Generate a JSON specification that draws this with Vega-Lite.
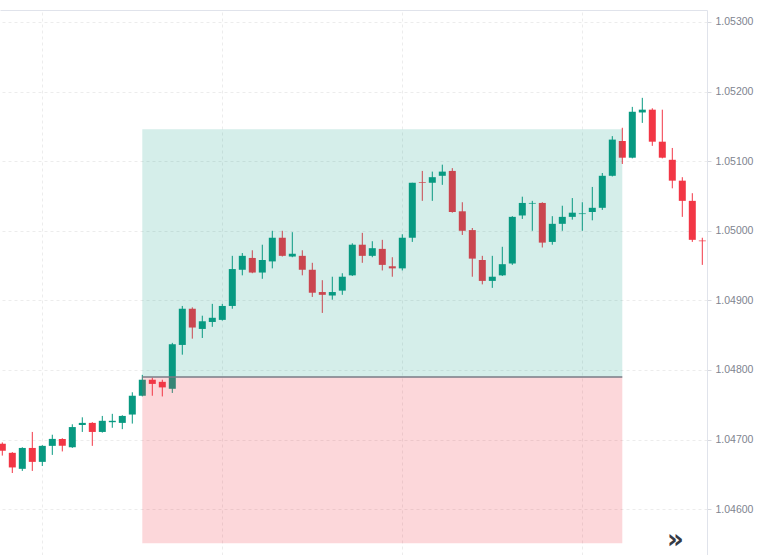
{
  "$schema": "https://vega.github.io/schema/vega-lite/v6.json",
  "width": 707,
  "height": 545,
  "autosize": {"type": "none"},
  "padding": {"left": 0, "top": 10, "right": 53, "bottom": 0},
  "background": "white",
  "datasets": {
    "candles": [
      {"i": 0, "o": 1.04694, "h": 1.04696, "l": 1.04677, "c": 1.04684},
      {"i": 1, "o": 1.04681, "h": 1.04682, "l": 1.04652, "c": 1.04660},
      {"i": 2, "o": 1.04658, "h": 1.04689, "l": 1.04655, "c": 1.04688},
      {"i": 3, "o": 1.04688, "h": 1.04711, "l": 1.04655, "c": 1.04668},
      {"i": 4, "o": 1.04668, "h": 1.04692, "l": 1.04662, "c": 1.04691},
      {"i": 5, "o": 1.04691, "h": 1.04707, "l": 1.04678, "c": 1.04701},
      {"i": 6, "o": 1.04701, "h": 1.04702, "l": 1.04683, "c": 1.04691},
      {"i": 7, "o": 1.04689, "h": 1.04722, "l": 1.04688, "c": 1.04718},
      {"i": 8, "o": 1.04721, "h": 1.04732, "l": 1.04711, "c": 1.04724},
      {"i": 9, "o": 1.04724, "h": 1.04725, "l": 1.04691, "c": 1.04711},
      {"i": 10, "o": 1.04711, "h": 1.04734, "l": 1.04710, "c": 1.04727},
      {"i": 11, "o": 1.04725, "h": 1.04737, "l": 1.04717, "c": 1.04727},
      {"i": 12, "o": 1.04724, "h": 1.04735, "l": 1.04715, "c": 1.04734},
      {"i": 13, "o": 1.04736, "h": 1.04768, "l": 1.04723, "c": 1.04763},
      {"i": 14, "o": 1.04763, "h": 1.04793, "l": 1.04762, "c": 1.04786},
      {"i": 15, "o": 1.04786, "h": 1.04789, "l": 1.04763, "c": 1.04780},
      {"i": 16, "o": 1.04783, "h": 1.04786, "l": 1.04762, "c": 1.04775},
      {"i": 17, "o": 1.04773, "h": 1.04839, "l": 1.04767, "c": 1.04837},
      {"i": 18, "o": 1.04836, "h": 1.04892, "l": 1.04822, "c": 1.04888},
      {"i": 19, "o": 1.04888, "h": 1.04890, "l": 1.04845, "c": 1.04861},
      {"i": 20, "o": 1.04859, "h": 1.04878, "l": 1.04846, "c": 1.04870},
      {"i": 21, "o": 1.04869, "h": 1.04895, "l": 1.04862, "c": 1.04875},
      {"i": 22, "o": 1.04872, "h": 1.04895, "l": 1.04871, "c": 1.04892},
      {"i": 23, "o": 1.04892, "h": 1.04964, "l": 1.04888, "c": 1.04945},
      {"i": 24, "o": 1.04944, "h": 1.04968, "l": 1.04936, "c": 1.04964},
      {"i": 25, "o": 1.04961, "h": 1.04972, "l": 1.04939, "c": 1.04940},
      {"i": 26, "o": 1.04940, "h": 1.04980, "l": 1.04931, "c": 1.04958},
      {"i": 27, "o": 1.04956, "h": 1.05000, "l": 1.04946, "c": 1.04990},
      {"i": 28, "o": 1.04990, "h": 1.05000, "l": 1.04963, "c": 1.04964},
      {"i": 29, "o": 1.04963, "h": 1.04998, "l": 1.04962, "c": 1.04967},
      {"i": 30, "o": 1.04964, "h": 1.04972, "l": 1.04936, "c": 1.04944},
      {"i": 31, "o": 1.04944, "h": 1.04954, "l": 1.04905, "c": 1.04911},
      {"i": 32, "o": 1.04912, "h": 1.04929, "l": 1.04882, "c": 1.04908},
      {"i": 33, "o": 1.04907, "h": 1.04934, "l": 1.04901, "c": 1.04912},
      {"i": 34, "o": 1.04914, "h": 1.04939, "l": 1.04908, "c": 1.04934},
      {"i": 35, "o": 1.04936, "h": 1.04982, "l": 1.04935, "c": 1.04980},
      {"i": 36, "o": 1.04980, "h": 1.04997, "l": 1.04954, "c": 1.04964},
      {"i": 37, "o": 1.04964, "h": 1.04985, "l": 1.04962, "c": 1.04975},
      {"i": 38, "o": 1.04974, "h": 1.04987, "l": 1.04943, "c": 1.04951},
      {"i": 39, "o": 1.04949, "h": 1.04962, "l": 1.04934, "c": 1.04946},
      {"i": 40, "o": 1.04946, "h": 1.04995, "l": 1.04943, "c": 1.04990},
      {"i": 41, "o": 1.04990, "h": 1.05069, "l": 1.04984, "c": 1.05069},
      {"i": 42, "o": 1.05070, "h": 1.05086, "l": 1.05043, "c": 1.05069},
      {"i": 43, "o": 1.05069, "h": 1.05085, "l": 1.05043, "c": 1.05077},
      {"i": 44, "o": 1.05079, "h": 1.05095, "l": 1.05066, "c": 1.05085},
      {"i": 45, "o": 1.05086, "h": 1.05090, "l": 1.05026, "c": 1.05027},
      {"i": 46, "o": 1.05028, "h": 1.05041, "l": 1.04994, "c": 1.05000},
      {"i": 47, "o": 1.05001, "h": 1.05004, "l": 1.04934, "c": 1.04960},
      {"i": 48, "o": 1.04958, "h": 1.04964, "l": 1.04923, "c": 1.04928},
      {"i": 49, "o": 1.04928, "h": 1.04964, "l": 1.04918, "c": 1.04934},
      {"i": 50, "o": 1.04936, "h": 1.04977, "l": 1.04935, "c": 1.04952},
      {"i": 51, "o": 1.04953, "h": 1.05021, "l": 1.04951, "c": 1.05020},
      {"i": 52, "o": 1.05022, "h": 1.05049, "l": 1.05017, "c": 1.05040},
      {"i": 53, "o": 1.05039, "h": 1.05043, "l": 1.05000, "c": 1.05040},
      {"i": 54, "o": 1.05040, "h": 1.05041, "l": 1.04976, "c": 1.04983},
      {"i": 55, "o": 1.04984, "h": 1.05021, "l": 1.04980, "c": 1.05010},
      {"i": 56, "o": 1.05010, "h": 1.05036, "l": 1.05000, "c": 1.05020},
      {"i": 57, "o": 1.05020, "h": 1.05047, "l": 1.05016, "c": 1.05026},
      {"i": 58, "o": 1.05024, "h": 1.05041, "l": 1.05000, "c": 1.05025},
      {"i": 59, "o": 1.05027, "h": 1.05063, "l": 1.05015, "c": 1.05033},
      {"i": 60, "o": 1.05033, "h": 1.05083, "l": 1.05030, "c": 1.05079},
      {"i": 61, "o": 1.05079, "h": 1.05136, "l": 1.05078, "c": 1.05131},
      {"i": 62, "o": 1.05129, "h": 1.05148, "l": 1.05096, "c": 1.05105},
      {"i": 63, "o": 1.05105, "h": 1.05178, "l": 1.05104, "c": 1.05171},
      {"i": 64, "o": 1.05170, "h": 1.05191, "l": 1.05155, "c": 1.05174},
      {"i": 65, "o": 1.05174, "h": 1.05176, "l": 1.05122, "c": 1.05128},
      {"i": 66, "o": 1.05128, "h": 1.05174, "l": 1.05104, "c": 1.05105},
      {"i": 67, "o": 1.05102, "h": 1.05119, "l": 1.05061, "c": 1.05072},
      {"i": 68, "o": 1.05072, "h": 1.05077, "l": 1.05020, "c": 1.05043},
      {"i": 69, "o": 1.05043, "h": 1.05054, "l": 1.04984, "c": 1.04987},
      {"i": 70, "o": 1.04986, "h": 1.04990, "l": 1.04951, "c": 1.04985}
    ],
    "zones": [
      {"zone": "profit", "x1": 14, "x2": 62, "y1": 1.0479, "y2": 1.05146},
      {"zone": "loss", "x1": 14, "x2": 62, "y1": 1.04551, "y2": 1.0479}
    ],
    "entry": [
      {"x1": 14, "x2": 62, "price": 1.0479}
    ],
    "icons": [
      {"i": 67.3, "p": 1.04556, "t": "»"}
    ]
  },
  "layer": [
    {
      "data": {"name": "candles"},
      "mark": {"type": "rule", "strokeWidth": 1, "clip": true},
      "encoding": {
        "x": {
          "field": "i",
          "type": "quantitative",
          "scale": {"domain": [-0.23, 70.47], "nice": false, "zero": false, "padding": 0},
          "axis": {
            "orient": "top",
            "title": null,
            "labels": false,
            "ticks": false,
            "domain": true,
            "domainColor": "#e0e3eb",
            "grid": true,
            "gridColor": "#ececec",
            "gridDash": [3, 3],
            "values": [4, 22, 40, 58]
          }
        },
        "y": {
          "field": "l",
          "type": "quantitative",
          "scale": {"domain": [1.045342, 1.053172], "nice": false, "zero": false},
          "axis": {
            "orient": "right",
            "title": null,
            "values": [1.046, 1.047, 1.048, 1.049, 1.05, 1.051, 1.052, 1.053],
            "format": ".5f",
            "grid": true,
            "gridColor": "#ececec",
            "gridDash": [3, 3],
            "domainColor": "#e0e3eb",
            "tickColor": "#d6d8de",
            "tickSize": 4,
            "labelPadding": 4,
            "labelColor": "#80848f",
            "labelFont": "Liberation Sans",
            "labelFontSize": 10.5
          }
        },
        "y2": {"field": "h"},
        "color": {
          "condition": {"test": "datum.c >= datum.o", "value": "#089981"},
          "value": "#f23645"
        }
      }
    },
    {
      "data": {"name": "candles"},
      "mark": {"type": "bar", "width": 7, "clip": true},
      "encoding": {
        "x": {"field": "i", "type": "quantitative"},
        "y": {"field": "o", "type": "quantitative"},
        "y2": {"field": "c"},
        "color": {
          "condition": {"test": "datum.c >= datum.o", "value": "#089981"},
          "value": "#f23645"
        }
      }
    },
    {
      "data": {"name": "zones"},
      "mark": {"type": "rect", "clip": true},
      "encoding": {
        "x": {"field": "x1", "type": "quantitative"},
        "x2": {"field": "x2"},
        "y": {"field": "y1", "type": "quantitative"},
        "y2": {"field": "y2"},
        "color": {
          "field": "zone",
          "type": "nominal",
          "scale": {"domain": ["profit", "loss"], "range": ["#089981", "#f23645"]},
          "legend": null
        },
        "opacity": {
          "field": "zone",
          "type": "nominal",
          "scale": {"domain": ["profit", "loss"], "range": [0.17, 0.2]},
          "legend": null
        }
      }
    },
    {
      "data": {"name": "entry"},
      "mark": {"type": "rule", "color": "#787b86", "strokeWidth": 1.5},
      "encoding": {
        "x": {"field": "x1", "type": "quantitative"},
        "x2": {"field": "x2"},
        "y": {"field": "price", "type": "quantitative"}
      }
    },
    {
      "data": {"name": "icons"},
      "mark": {
        "type": "text",
        "font": "DejaVu Sans",
        "fontSize": 26,
        "fontWeight": "bold",
        "color": "#363a45",
        "baseline": "middle",
        "align": "center"
      },
      "encoding": {
        "x": {"field": "i", "type": "quantitative"},
        "y": {"field": "p", "type": "quantitative"},
        "text": {"field": "t"}
      }
    }
  ],
  "config": {
    "view": {"stroke": null}
  }
}
